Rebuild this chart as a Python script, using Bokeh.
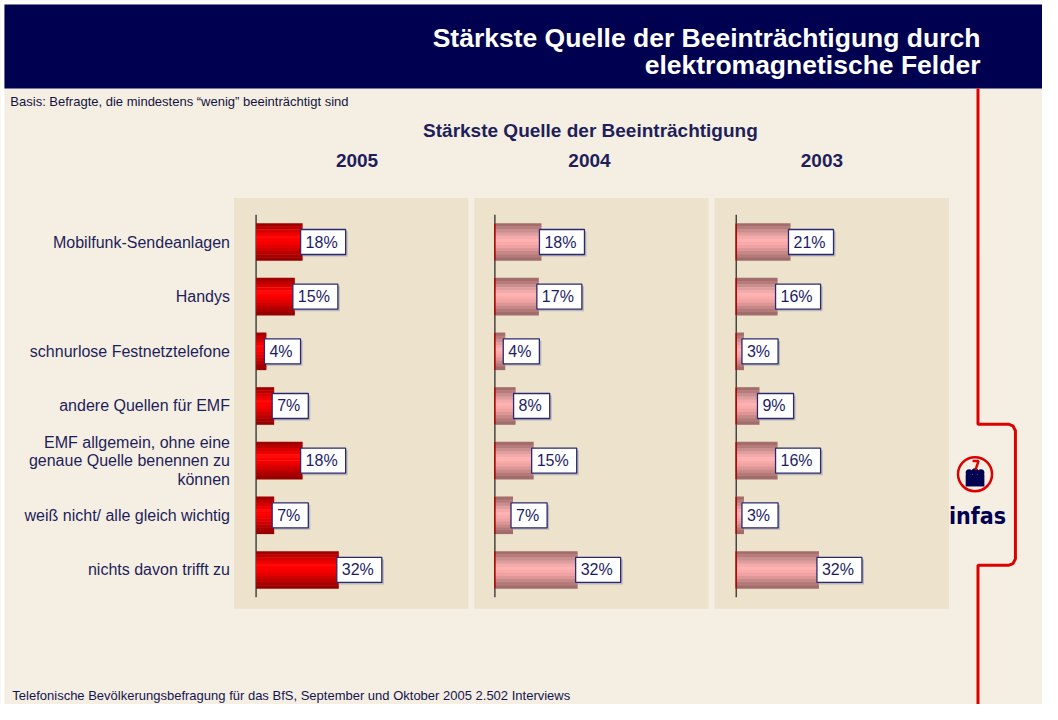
from bokeh.plotting import figure
from bokeh.models import Range1d
from bokeh.core.properties import value
from bokeh.embed import file_html
from bokeh.resources import INLINE

# ---------------- data ----------------
categories = [
    "Mobilfunk-Sendeanlagen",
    "Handys",
    "schnurlose Festnetztelefone",
    "andere Quellen für EMF",
    "EMF allgemein, ohne eine\ngenaue Quelle benennen zu\nkönnen",
    "weiß nicht/ alle gleich wichtig",
    "nichts davon trifft zu",
]
years = ["2005", "2004", "2003"]
v2005 = [18, 15, 4, 7, 18, 7, 32]
v2004 = [18, 17, 4, 8, 15, 7, 32]
v2003 = [21, 16, 3, 9, 16, 3, 32]
series = [v2005, v2004, v2003]

title_lines = ["Stärkste Quelle der Beeinträchtigung durch", "elektromagnetische Felder"]
basis_text = "Basis: Befragte, die mindestens \u201cwenig\u201d beeinträchtigt sind"
heading = "Stärkste Quelle der Beeinträchtigung"
footer = "Telefonische Bevölkerungsbefragung für das BfS, September und Oktober 2005 2.502 Interviews"

# ---------------- style ----------------
BG = "#F5EFE3"
PANEL = "#EDE2CC"
NAVY = "#000050"
TXT = "#1E1E5A"
RED = "#DD0000"
FONT = value("Liberation Sans")

red_stripes = ["#A00000", "#BC0000", "#D60000", "#EC0000", "#FF0808", "#FF0000",
               "#F40000", "#E40000", "#D00000", "#BC0000", "#A80000", "#960000"]
pink_stripes = ["#A46C6C", "#B67C7C", "#CA8E8E", "#DE9E9E", "#F2AAAA", "#FFB2B2",
                "#FAAAAA", "#EEA2A2", "#DC9696", "#C88888", "#B47A7A", "#A06C6C"]
stripes_per_year = [red_stripes, pink_stripes, pink_stripes]

W, H = 1042, 704
# the frame spans the reference's 1058 x 720 layout grid
p = figure(width=W, height=H, x_range=Range1d(0, 1058), y_range=Range1d(720, 0),
           output_backend="svg", toolbar_location=None, min_border=0,
           x_axis_location=None, y_axis_location=None,
           background_fill_color=BG, border_fill_color=BG, outline_line_color=None)
p.grid.visible = False

# white edge + title bar
p.quad(left=[0], right=[4], top=[0], bottom=[720], fill_color="white", line_color=None)
p.quad(left=[0], right=[1058], top=[0], bottom=[4], fill_color="white", line_color=None)
p.quad(left=[4], right=[1058], top=[4], bottom=[90], fill_color=NAVY, line_color=None)
for i, t in enumerate(title_lines):
    p.text(x=[995], y=[38 + 28 * i], text=[t], text_align="right", text_baseline="middle",
           text_font=FONT, text_font_style="bold", text_font_size="26.5px", text_color="white")

p.text(x=[10], y=[103], text=[basis_text], text_align="left", text_baseline="middle",
       text_font=FONT, text_font_size="13px", text_color="#141440")
p.text(x=[599], y=[133], text=[heading], text_align="center", text_baseline="middle",
       text_font=FONT, text_font_style="bold", text_font_size="19px", text_color=TXT)
year_x = [362, 598, 834]
p.text(x=year_x, y=[164] * 3, text=years, text_align="center", text_baseline="middle",
       text_font=FONT, text_font_style="bold", text_font_size="19px", text_color=TXT)
p.text(x=[12], y=[711], text=[footer], text_align="left", text_baseline="middle",
       text_font=FONT, text_font_size="13px", text_color="#141450")

# panels
panel_left = [237, 481, 725]
p.quad(left=panel_left, right=[x + 238 for x in panel_left], top=[202] * 3, bottom=[622] * 3,
       fill_color=PANEL, line_color=None)

# row geometry
n = len(categories)
rows = list(range(n))
row_top, row_pitch = 247.0, 55.9
y_src = Range1d(-0.5, n - 0.5)
y_tgt = Range1d(row_top - 0.5 * row_pitch, row_top + (n - 0.5) * row_pitch)

# category labels
lab = p.subplot(x_source=Range1d(0, 1), x_target=Range1d(0, 1), y_source=y_src, y_target=y_tgt)
lab.text(x=[233] * n, y=rows, text=categories, text_align="right", text_baseline="middle",
         text_font=FONT, text_font_size="16px", text_color=TXT, text_line_height=1.08)

axis_x = [259.5, 502, 747]
px_per_pct = 2.625
bar_h = 0.68
for k in range(3):
    vals = series[k]
    sp = p.subplot(x_source=Range1d(0, 80), x_target=Range1d(axis_x[k], axis_x[k] + 80 * px_per_pct),
                   y_source=Range1d(-0.5, n - 0.5), y_target=Range1d(y_tgt.start, y_tgt.end))
    sp.segment(x0=[0], y0=[-0.5], x1=[0], y1=[n - 0.5], line_color="#202020", line_width=1.2)
    stripes = stripes_per_year[k]
    ns = len(stripes)
    sh = bar_h / ns
    for j, c in enumerate(stripes):
        sp.hbar(y=[r - bar_h / 2 + (j + 0.5) * sh for r in rows], left=0, right=vals,
                height=sh * 1.15, fill_color=c, line_color=None)
    if k > 0:
        sp.segment(x0=[0] * n, y0=[r - bar_h / 2 for r in rows], x1=[0] * n,
                   y1=[r + bar_h / 2 for r in rows], line_color="#B00000", line_width=1.5)
    labels = [f"{v}%" for v in vals]
    # shadow
    sp.text(x=vals, y=rows, text=labels, text_align="left", text_baseline="middle",
            x_offset=0, y_offset=2, text_font=FONT, text_font_size="16px", text_alpha=0,
            background_fill_color="#9A9AA8", background_fill_alpha=0.6,
            padding=dict(left=5, right=8, top=4, bottom=4))
    sp.text(x=vals, y=rows, text=labels, text_align="left", text_baseline="middle",
            x_offset=-2, text_font=FONT, text_font_size="16px", text_color="#1C1C64",
            background_fill_color="white", border_line_color="#2A2A70", border_line_width=1.3,
            padding=dict(left=5, right=8, top=4, bottom=4))

# red bracket line
bx = [992.5, 992.5, 1024, 1028, 1030.5, 1030.5, 1028, 1024, 992.5, 992.5]
by = [90, 433.5, 433.5, 435, 440, 571, 576, 577.5, 577.5, 720]
p.line(x=bx, y=by, line_color=RED, line_width=3)

# infas logo
p.scatter(x=[989.5], y=[484.5], size=34, marker="circle", fill_color=None,
          line_color=RED, line_width=2.5)
p.quad(left=[980], right=[999], top=[485], bottom=[497], fill_color=NAVY, line_color=None)
p.scatter(x=[983.5, 989.5, 995.5], y=[483, 482, 483], size=7, marker="circle",
          fill_color=NAVY, line_color=None)
p.line(x=[987, 993, 990], y=[471, 471, 480], line_color=RED, line_width=2.5)
p.text(x=[992], y=[527], text=["infas"], text_align="center", text_baseline="middle",
       text_font=value("'DejaVu Sans Condensed', 'Liberation Sans', sans-serif"),
       text_font_style="bold", text_font_size="23px", text_color=NAVY)

open("out.html", "w").write(file_html(p, INLINE))
